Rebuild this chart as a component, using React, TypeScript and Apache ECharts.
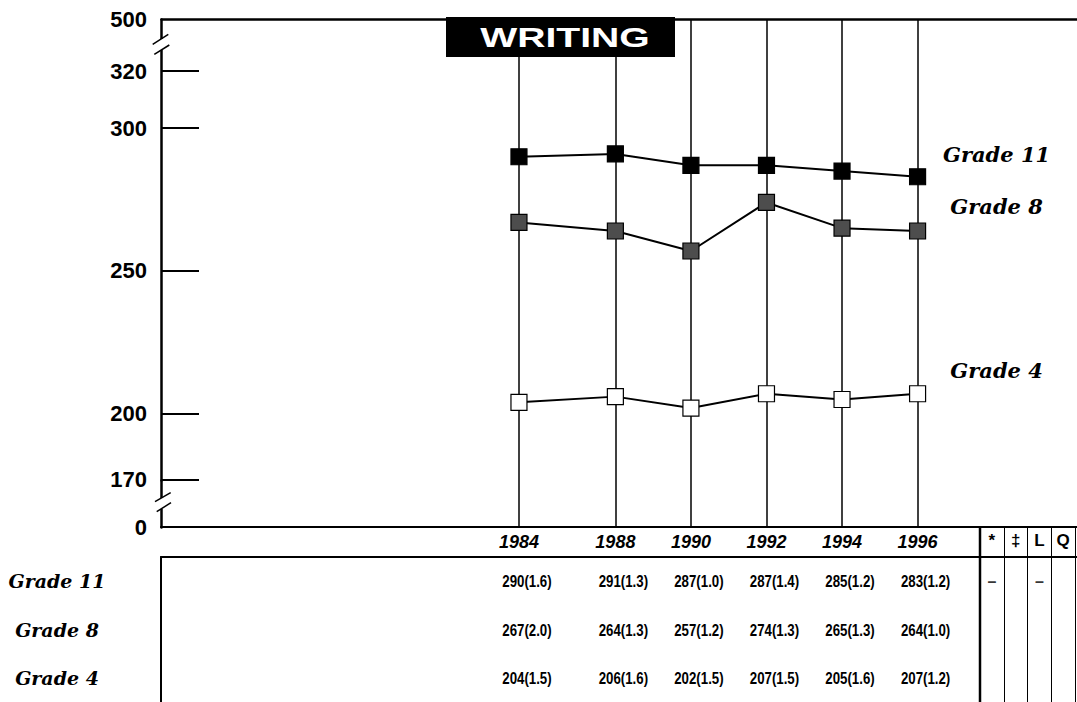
import React, { useEffect, useRef } from 'react';
import * as echarts from 'echarts';

// ---- data ----
const years = [1984, 1988, 1990, 1992, 1994, 1996];
const gradeNames = ['Grade 11', 'Grade 8', 'Grade 4'];
const grade11 = [290, 291, 287, 287, 285, 283];
const grade11SE = [1.6, 1.3, 1.0, 1.4, 1.2, 1.2];
const grade8 = [267, 264, 257, 274, 265, 264];
const grade8SE = [2.0, 1.3, 1.2, 1.3, 1.3, 1.0];
const grade4 = [204, 206, 202, 207, 205, 207];
const grade4SE = [1.5, 1.6, 1.5, 1.5, 1.6, 1.2];
const yLabelValues = [0, 170, 200, 250, 300, 320, 500];
const yTickValues = [170, 200, 250, 300, 320];
const flagColumns = ['*', '‡', 'L', 'Q'];
const flagMarks = [
  ['*', 'Grade 11', '–'],
  ['L', 'Grade 11', '–'],
];

// broken-axis scale settings (the original axes are broken / non-uniform)
const yBreaks = [
  { start: 0, end: 153.5, gap: 0 },
  { start: 170, end: 176.84, gap: 0 },
  { start: 338.25, end: 500, gap: 0 },
];
const xMin = 1974.524;
const xMax = 2000.22;
const xBreaks = [{ start: 1985.276, end: 1986.724, gap: 0 }];

const sans = "'Liberation Sans', Arial, Helvetica, sans-serif";
const serif = "'DejaVu Serif', 'Liberation Serif', serif";

const series = [
  { name: 'Grade 11', values: grade11, se: grade11SE, fill: '#000000', off: [79, -22.7] },
  { name: 'Grade 8', values: grade8, se: grade8SE, fill: '#4d4d4d', off: [79, -25] },
  { name: 'Grade 4', values: grade4, se: grade4SE, fill: '#ffffff', off: [79, -23.7] },
];

function buildOption(): any {
  const xBase = {
    type: 'value',
    min: xMin,
    max: xMax,
    breaks: xBreaks,
    breakArea: { show: false },
  };
  const lineSeries = series.map((s) => ({
    type: 'line',
    name: s.name,
    xAxisIndex: 0,
    yAxisIndex: 0,
    data: years.map((y, i) => [y, s.values[i]]),
    symbol: 'rect',
    symbolSize: 16,
    showSymbol: true,
    lineStyle: { color: '#000', width: 2 },
    itemStyle: { color: s.fill, borderColor: '#000', borderWidth: 1.2 },
    z: 5,
    endLabel: {
      show: true,
      formatter: '{a}',
      align: 'center',
      verticalAlign: 'middle',
      distance: 0,
      offset: s.off,
      fontFamily: serif,
      fontStyle: 'italic',
      fontWeight: 'bold',
      fontSize: 21,
      color: '#000',
    },
  }));
  const tableData: any[] = [];
  series.forEach((s) => {
    years.forEach((y, i) => {
      tableData.push([y, s.name, s.values[i], s.se[i]]);
    });
  });
  return {
    animation: false,
    backgroundColor: '#fff',
    textStyle: { fontFamily: sans },
    grid: [
      { left: 161, right: 0, top: 19, bottom: 702 - 527 },
      { left: 161, right: 0, top: 557, height: 150 },
      { left: 980, right: 2, top: 557, height: 150 },
    ],
    xAxis: [
      {
        ...xBase,
        gridIndex: 0,
        position: 'bottom',
        axisLine: { show: true, onZero: false, lineStyle: { color: '#000', width: 2 } },
        axisTick: { show: false, customValues: years },
        axisLabel: {
          customValues: years,
          formatter: (v: number) => String(Math.round(v)),
          fontStyle: 'italic',
          fontWeight: 'bold',
          fontSize: 18,
          color: '#000',
          margin: 6,
        },
        splitLine: { show: true, lineStyle: { color: '#000', width: 1.5 } },
      },
      {
        ...xBase,
        gridIndex: 0,
        position: 'top',
        axisLine: { show: true, onZero: false, lineStyle: { color: '#000', width: 2.5 } },
        axisTick: { show: false },
        axisLabel: { show: false },
        splitLine: { show: false },
      },
      {
        ...xBase,
        gridIndex: 1,
        position: 'top',
        axisLine: { show: true, onZero: false, lineStyle: { color: '#000', width: 2 } },
        axisTick: { show: false },
        axisLabel: { show: false },
        splitLine: { show: false },
      },
      {
        type: 'category',
        data: flagColumns,
        gridIndex: 2,
        position: 'top',
        axisLine: { show: true, onZero: false, lineStyle: { color: '#000', width: 1.5 } },
        axisTick: { show: true, length: 30, interval: 0, lineStyle: { color: '#000', width: 1 } },
        axisLabel: { interval: 0, margin: 8, fontWeight: 'bold', fontSize: 17, color: '#000' },
        splitLine: { show: true, interval: 0, lineStyle: { color: '#000', width: 1 } },
      },
    ],
    yAxis: [
      {
        type: 'value',
        gridIndex: 0,
        min: 0,
        max: 500,
        breaks: yBreaks,
        breakArea: { show: false },
        axisLine: { show: true, lineStyle: { color: '#000', width: 2.5 } },
        axisTick: { show: true, inside: true, length: 38, customValues: yTickValues, lineStyle: { color: '#000', width: 2 } },
        axisLabel: {
          customValues: yLabelValues,
          fontSize: 22,
          fontWeight: 'bold',
          color: '#000',
          margin: 14,
          fontFamily: sans,
        },
        splitLine: { show: false },
      },
      {
        type: 'category',
        gridIndex: 1,
        data: gradeNames,
        inverse: true,
        axisLine: { show: true, lineStyle: { color: '#000', width: 2 } },
        axisTick: { show: false },
        axisLabel: {
          align: 'center',
          margin: 104,
          fontFamily: serif,
          fontStyle: 'italic',
          fontWeight: 'bold',
          fontSize: 19,
          color: '#000',
        },
        splitLine: { show: false },
      },
      {
        type: 'category',
        gridIndex: 2,
        data: gradeNames,
        inverse: true,
        show: false,
      },
    ],
    series: [
      ...lineSeries,
      {
        type: 'custom',
        name: 'table',
        xAxisIndex: 2,
        yAxisIndex: 1,
        data: tableData,
        encode: { x: 0, y: 1 },
        renderItem: (params: any, api: any) => {
          const row = tableData[params.dataIndex];
          const pt = api.coord([api.value(0), api.value(1)]);
          return {
            type: 'text',
            x: pt[0] + 8,
            y: pt[1],
            scaleX: 0.78,
            style: {
              text: `${row[2]}(${Number(row[3]).toFixed(1)})`,
              font: `bold 17px ${sans}`,
              fill: '#000',
              textAlign: 'center',
              textVerticalAlign: 'middle',
            },
          };
        },
      },
      {
        type: 'scatter',
        name: 'flags',
        xAxisIndex: 3,
        yAxisIndex: 2,
        data: flagMarks,
        symbolSize: 1,
        itemStyle: { color: 'rgba(0,0,0,0)' },
        label: {
          show: true,
          position: 'inside',
          formatter: (p: any) => p.data[2],
          fontWeight: 'bold',
          fontSize: 16,
          color: '#000',
        },
      },
    ],
    graphic: [
      {
        type: 'rect',
        z: 100,
        shape: { x: 446, y: 17, width: 229, height: 40 },
        style: { fill: '#000' },
      },
      {
        type: 'text',
        z: 101,
        x: 565,
        y: 38,
        scaleX: 1.45,
        style: {
          text: 'WRITING',
          fill: '#fff',
          font: `bold 27px ${sans}`,
          textAlign: 'center',
          textVerticalAlign: 'middle',
        },
      },
      // axis break marks
      { type: 'rect', z: 100, shape: { x: 157, y: 39, width: 8, height: 11 }, style: { fill: '#fff' } },
      { type: 'line', z: 101, shape: { x1: 152.7, y1: 44.3, x2: 168.3, y2: 34.3 }, style: { stroke: '#000', lineWidth: 1.5 } },
      { type: 'line', z: 101, shape: { x1: 154.3, y1: 54.3, x2: 169.3, y2: 45 }, style: { stroke: '#000', lineWidth: 1.5 } },
      { type: 'rect', z: 100, shape: { x: 157, y: 498, width: 8, height: 11 }, style: { fill: '#fff' } },
      { type: 'line', z: 101, shape: { x1: 155, y1: 501.7, x2: 170.7, y2: 492.7 }, style: { stroke: '#000', lineWidth: 1.5 } },
      { type: 'line', z: 101, shape: { x1: 156.7, y1: 511.7, x2: 171, y2: 502.7 }, style: { stroke: '#000', lineWidth: 1.5 } },
      // thick left border of the flags table
      { type: 'line', z: 100, shape: { x1: 980, y1: 527, x2: 980, y2: 702 }, style: { stroke: '#000', lineWidth: 2.5 } },
    ],
  };
}

export default function App() {
  const ref = useRef<HTMLDivElement>(null);
  useEffect(() => {
    const chart = echarts.init(ref.current!, null, { renderer: 'svg' });
    chart.setOption(buildOption());
    return () => chart.dispose();
  }, []);
  return (
    <div
      ref={ref}
      style={{ position: 'fixed', left: 0, top: 0, width: 1077, height: 702, background: '#fff' }}
    />
  );
}
